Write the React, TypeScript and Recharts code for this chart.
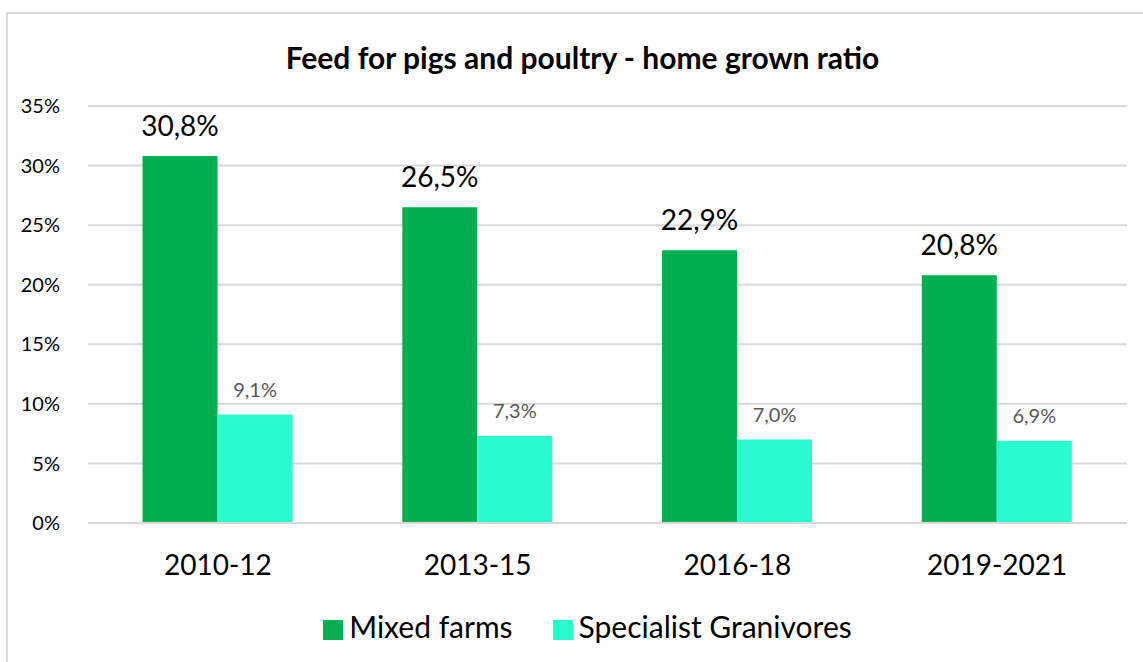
import React from 'react';
import { BarChart, Bar, XAxis, YAxis, CartesianGrid, Legend, LabelList } from 'recharts';

const periods = ['2010-12', '2013-15', '2016-18', '2019-2021'];
const mixedFarms = [30.8, 26.5, 22.9, 20.8];
const specialistGranivores = [9.1, 7.3, 7.0, 6.9];
const yTicks = [0, 5, 10, 15, 20, 25, 30, 35];

const data = periods.map((p, i) => ({
  period: p,
  mixed: mixedFarms[i],
  granivores: specialistGranivores[i],
}));

const FONT = 'Lato, "Open Sans", sans-serif';
const fmt = (v: number) => `${v.toFixed(1).replace('.', ',')}%`;

export default function App() {
  return (
    <div style={{ position: 'absolute', left: 0, top: 0, width: 1143, height: 662, background: '#fff', overflow: 'hidden', fontFamily: FONT }}>
      {/* chart frame */}
      <div style={{ position: 'absolute', left: 6, top: 12, width: 1160, height: 680, border: '2px solid #D9D9D9', boxSizing: 'border-box' }} />
      <div style={{ position: 'absolute', left: 0, top: 38, width: 1165, textAlign: 'center', fontSize: 30, fontWeight: 700, color: '#000', lineHeight: '38px' }}>
        Feed for pigs and poultry - home grown ratio
      </div>
      <BarChart
        width={1143}
        height={662}
        data={data}
        margin={{ top: 106, right: 16, left: 0, bottom: 6 }}
        barCategoryGap="21%"
        barGap={0}
        style={{ position: 'absolute', left: 0, top: 0 }}
      >
        <CartesianGrid vertical={false} stroke="#D9D9D9" strokeWidth={2} />
        <XAxis
          dataKey="period"
          tickLine={false}
          axisLine={{ stroke: '#D9D9D9', strokeWidth: 2 }}
          height={80}
          tickMargin={26}
          tick={{ fontSize: 28, fill: '#000', fontFamily: FONT }}
        />
        <YAxis
          domain={[0, 35]}
          ticks={yTicks}
          width={88}
          tickLine={false}
          axisLine={false}
          tickMargin={22}
          tickFormatter={(v: number) => `${v}%`}
          tick={{ fontSize: 20, fill: '#000', fontFamily: FONT }}
        />
        <Legend
          verticalAlign="bottom"
          iconType="square"
          iconSize={20}
          wrapperStyle={{ fontSize: 30, color: '#000', fontFamily: FONT, height: 53, left: 44, bottom: 1 }}
          formatter={(value: string) => <span style={{ color: '#000', marginRight: 30, marginLeft: 2 }}>{value}</span>}
        />
        <Bar dataKey="mixed" name="Mixed farms" fill="#00B050" isAnimationActive={false}>
          <LabelList dataKey="mixed" position="top" offset={20} formatter={fmt} style={{ fontSize: 28, fill: '#000', fontFamily: FONT }} />
        </Bar>
        <Bar dataKey="granivores" name="Specialist Granivores" fill="#2AFCD0" isAnimationActive={false}>
          <LabelList dataKey="granivores" position="top" offset={18} formatter={fmt} style={{ fontSize: 20, fill: '#595959', fontFamily: FONT }} />
        </Bar>
      </BarChart>
    </div>
  );
}
